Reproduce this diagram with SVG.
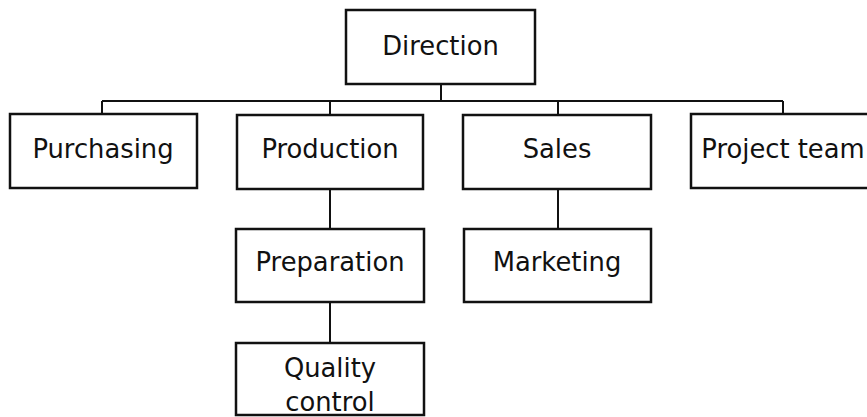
<svg xmlns="http://www.w3.org/2000/svg" width="867" height="417" viewBox="0 0 867 417">
<style>
.box{fill:#fff;stroke:#111;stroke-width:2.5}
.lbl{font-family:"DejaVu Sans",Verdana,sans-serif;font-size:25.8px;fill:#111;text-anchor:middle}
.conn{fill:none;stroke:#111;stroke-width:2}
</style>
<rect width="867" height="417" fill="#fff"/>
<g id="connectors">
<path class="conn" d="M441 84V101M102 101H783M102 101V114M330 101V115M558 101V115M783 101V114"/>
<path class="conn" d="M330 189V229M330 302V343"/>
<path class="conn" d="M558 189V229"/>
</g>
<g id="direction"><rect class="box" x="346" y="10" width="189" height="74"/><text class="lbl" x="440.5" y="54.5">Direction</text></g>
<g id="purchasing"><rect class="box" x="10" y="114" width="187" height="74"/><text class="lbl" x="103" y="158">Purchasing</text></g>
<g id="production"><rect class="box" x="237" y="115" width="186" height="74"/><text class="lbl" x="330" y="158">Production</text></g>
<g id="sales"><rect class="box" x="463" y="115" width="188" height="74"/><text class="lbl" x="557" y="158">Sales</text></g>
<g id="project-team"><rect class="box" x="691" y="114" width="186" height="74"/><text class="lbl" x="783" y="158">Project team</text></g>
<g id="preparation"><rect class="box" x="236" y="229" width="188" height="73"/><text class="lbl" x="330" y="271">Preparation</text></g>
<g id="marketing"><rect class="box" x="464" y="229" width="187" height="73"/><text class="lbl" x="557" y="271">Marketing</text></g>
<g id="quality-control"><rect class="box" x="236" y="343" width="188" height="72"/><text class="lbl" x="330" y="377">Quality</text><text class="lbl" x="330" y="411">control</text></g>
</svg>
